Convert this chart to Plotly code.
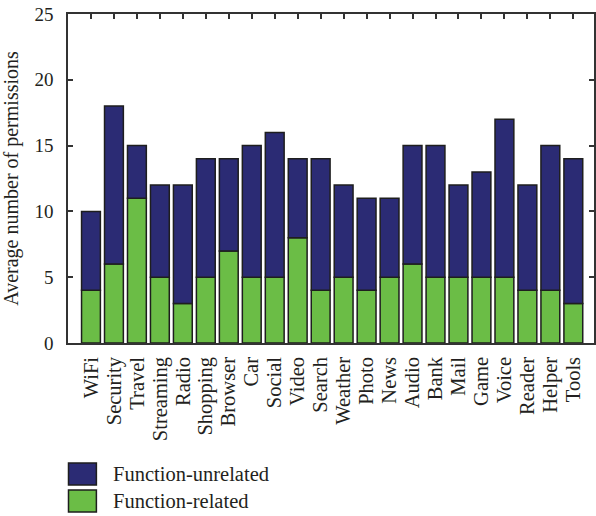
import plotly.graph_objects as go

# Average permissions per app category, split into function-related and
# function-unrelated permissions (stacked to the total per category).
categories = ["WiFi", "Security", "Travel", "Streaming", "Radio", "Shopping",
              "Browser", "Car", "Social", "Video", "Search", "Weather", "Photo",
              "News", "Audio", "Bank", "Mail", "Game", "Voice", "Reader",
              "Helper", "Tools"]
related = [4, 6, 11, 5, 3, 5, 7, 5, 5, 8, 4, 5, 4, 5, 6, 5, 5, 5, 5, 4, 4, 3]
totals = [10, 18, 15, 12, 12, 14, 14, 15, 16, 14, 14, 12, 11, 11, 15, 15, 12,
          13, 17, 12, 15, 14]
unrelated = [t - r for t, r in zip(totals, related)]
y_ticks = [0, 5, 10, 15, 20, 25]

NAVY = "#2B2B74"
GREEN = "#6BBD46"
EDGE = "#1E1E1E"
AXIS = "#333333"
FONT = "Liberation Serif"

x_idx = list(range(len(categories)))

fig = go.Figure()
# Lower segment: function-related permissions
fig.add_trace(go.Bar(x=x_idx, y=related, name="Function-related", width=0.82,
                     marker=dict(color=GREEN, line=dict(color=EDGE, width=1.5))))
# Upper segment: function-unrelated permissions, stacked on top
fig.add_trace(go.Bar(x=x_idx, y=unrelated, base=related,
                     name="Function-unrelated", width=0.82,
                     marker=dict(color=NAVY, line=dict(color=EDGE, width=1.5))))

x_range = [-1, 21.9]
y_range = [0, 25]

fig.update_layout(
    width=596, height=516,
    margin=dict(l=68, r=0, t=14, b=173),
    plot_bgcolor="white", paper_bgcolor="white",
    barmode="overlay", showlegend=False,
    font=dict(family=FONT, color="#231F20", size=19),
    xaxis=dict(
        range=x_range, tickmode="array", tickvals=x_idx, ticktext=categories,
        tickangle=-90, ticks="inside", ticklen=5, tickwidth=1.5, tickcolor=AXIS,
        mirror="ticks", layer="below traces",
        showline=True, linecolor=AXIS, linewidth=1.5,
        tickfont=dict(size=20.5), showgrid=False, zeroline=False,
        ticklabelstandoff=4,
    ),
    yaxis=dict(
        range=y_range, tickvals=y_ticks, ticks="inside", ticklen=5,
        tickwidth=1.5, tickcolor=AXIS, mirror="ticks",
        showline=True, linecolor=AXIS, linewidth=1.5, showgrid=False,
        zeroline=False,
        title=dict(text="Average number of permissions", font=dict(size=20),
                   standoff=14),
        tickfont=dict(size=19), ticklabelstandoff=9,
    ),
)

# Legend drawn as swatches with text labels below the plot area
plot_w = 596 - 68
plot_h = 516 - 14 - 173


def px_x(px):
    return (px - 68) / plot_w


def px_y(py):
    return (343 - py) / plot_h


legend_items = [("Function-unrelated", NAVY, 463), ("Function-related", GREEN, 490)]
for label, color, top in legend_items:
    fig.add_shape(type="rect", xref="paper", yref="paper",
                  x0=px_x(68.5), x1=px_x(96.5), y0=px_y(top), y1=px_y(top + 22),
                  fillcolor=color, line=dict(color=EDGE, width=1.5))
    fig.add_annotation(xref="paper", yref="paper", x=px_x(111), y=px_y(top + 11),
                       text=label, showarrow=False, xanchor="left",
                       yanchor="middle", font=dict(size=20.5, family=FONT))

fig.write_html("out.html")
